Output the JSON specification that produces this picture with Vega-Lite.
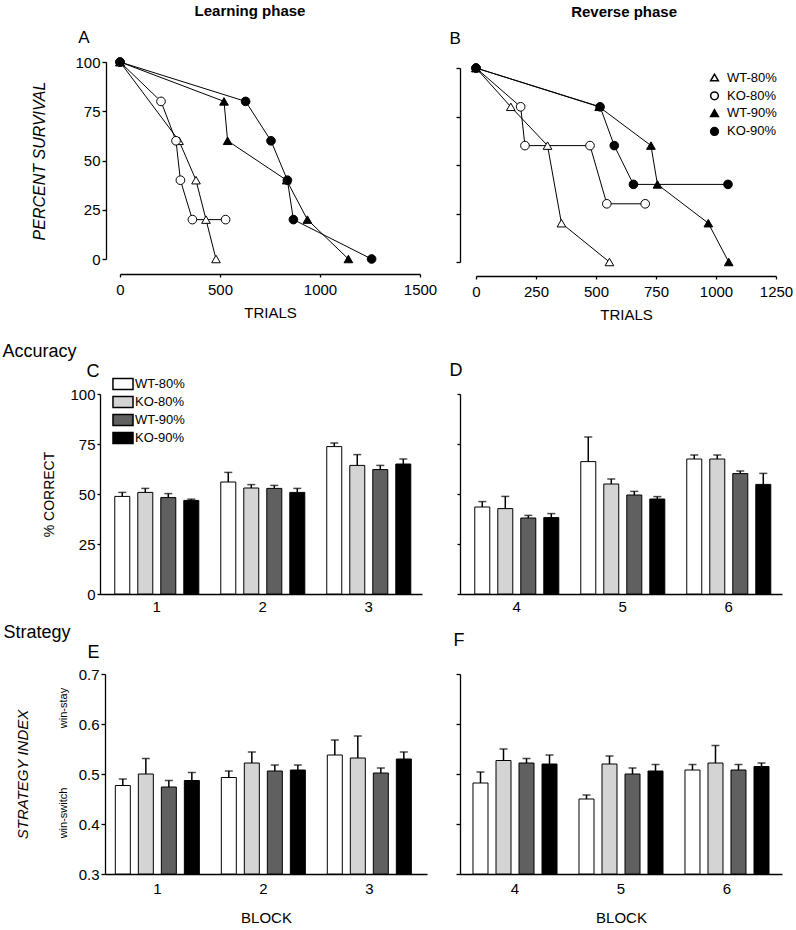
{
  "$schema": "https://vega.github.io/schema/vega-lite/v6.json",
  "padding": {"left": 2, "top": 3, "right": 5, "bottom": 5},
  "background": "white",
  "columns": 2,
  "spacing": {"row": 80, "column": 33},
  "bounds": "flush",
  "align": "each",
  "resolve": {"scale": {"fill": "independent", "shape": "independent"}},
  "datasets": {
    "surv": [
      {"panel": "A", "group": "WT-80%", "trials": 0, "pct": 100},
      {"panel": "A", "group": "WT-80%", "trials": 295, "pct": 60},
      {"panel": "A", "group": "WT-80%", "trials": 380, "pct": 40},
      {"panel": "A", "group": "WT-80%", "trials": 430, "pct": 20},
      {"panel": "A", "group": "WT-80%", "trials": 480, "pct": 0},
      {"panel": "A", "group": "KO-80%", "trials": 0, "pct": 100},
      {"panel": "A", "group": "KO-80%", "trials": 205, "pct": 80},
      {"panel": "A", "group": "KO-80%", "trials": 280, "pct": 60},
      {"panel": "A", "group": "KO-80%", "trials": 302, "pct": 40},
      {"panel": "A", "group": "KO-80%", "trials": 362, "pct": 20},
      {"panel": "A", "group": "KO-80%", "trials": 528, "pct": 20},
      {"panel": "A", "group": "WT-90%", "trials": 0, "pct": 100},
      {"panel": "A", "group": "WT-90%", "trials": 520, "pct": 80},
      {"panel": "A", "group": "WT-90%", "trials": 538, "pct": 60},
      {"panel": "A", "group": "WT-90%", "trials": 833, "pct": 40},
      {"panel": "A", "group": "WT-90%", "trials": 937, "pct": 20},
      {"panel": "A", "group": "WT-90%", "trials": 1142, "pct": 0},
      {"panel": "A", "group": "KO-90%", "trials": 0, "pct": 100},
      {"panel": "A", "group": "KO-90%", "trials": 628, "pct": 80},
      {"panel": "A", "group": "KO-90%", "trials": 755, "pct": 60},
      {"panel": "A", "group": "KO-90%", "trials": 837, "pct": 40},
      {"panel": "A", "group": "KO-90%", "trials": 867, "pct": 20},
      {"panel": "A", "group": "KO-90%", "trials": 1258, "pct": 0},
      {"panel": "B", "group": "WT-80%", "trials": 0, "pct": 100},
      {"panel": "B", "group": "WT-80%", "trials": 145, "pct": 80},
      {"panel": "B", "group": "WT-80%", "trials": 298, "pct": 60},
      {"panel": "B", "group": "WT-80%", "trials": 356, "pct": 20},
      {"panel": "B", "group": "WT-80%", "trials": 556, "pct": 0},
      {"panel": "B", "group": "KO-80%", "trials": 0, "pct": 100},
      {"panel": "B", "group": "KO-80%", "trials": 186, "pct": 80},
      {"panel": "B", "group": "KO-80%", "trials": 204, "pct": 60},
      {"panel": "B", "group": "KO-80%", "trials": 475, "pct": 60},
      {"panel": "B", "group": "KO-80%", "trials": 545, "pct": 30},
      {"panel": "B", "group": "KO-80%", "trials": 705, "pct": 30},
      {"panel": "B", "group": "WT-90%", "trials": 0, "pct": 100},
      {"panel": "B", "group": "WT-90%", "trials": 513, "pct": 80},
      {"panel": "B", "group": "WT-90%", "trials": 729, "pct": 60},
      {"panel": "B", "group": "WT-90%", "trials": 756, "pct": 40},
      {"panel": "B", "group": "WT-90%", "trials": 968, "pct": 20},
      {"panel": "B", "group": "WT-90%", "trials": 1053, "pct": 0},
      {"panel": "B", "group": "KO-90%", "trials": 0, "pct": 100},
      {"panel": "B", "group": "KO-90%", "trials": 517, "pct": 80},
      {"panel": "B", "group": "KO-90%", "trials": 576, "pct": 60},
      {"panel": "B", "group": "KO-90%", "trials": 656, "pct": 40},
      {"panel": "B", "group": "KO-90%", "trials": 1050, "pct": 40}
    ],
    "bars": [
      {"panel": "C", "block": "1", "group": "WT-80%", "mean": 48.8, "upper": 50.8},
      {"panel": "C", "block": "1", "group": "KO-80%", "mean": 50.8, "upper": 52.8},
      {"panel": "C", "block": "1", "group": "WT-90%", "mean": 48.2, "upper": 50.2},
      {"panel": "C", "block": "1", "group": "KO-90%", "mean": 46.8, "upper": 47.4},
      {"panel": "C", "block": "2", "group": "WT-80%", "mean": 56.0, "upper": 60.8},
      {"panel": "C", "block": "2", "group": "KO-80%", "mean": 53.0, "upper": 54.7},
      {"panel": "C", "block": "2", "group": "WT-90%", "mean": 52.8, "upper": 54.3},
      {"panel": "C", "block": "2", "group": "KO-90%", "mean": 50.8, "upper": 52.8},
      {"panel": "C", "block": "3", "group": "WT-80%", "mean": 73.7, "upper": 75.5},
      {"panel": "C", "block": "3", "group": "KO-80%", "mean": 64.3, "upper": 69.7},
      {"panel": "C", "block": "3", "group": "WT-90%", "mean": 62.2, "upper": 64.3},
      {"panel": "C", "block": "3", "group": "KO-90%", "mean": 65.0, "upper": 67.5},
      {"panel": "D", "block": "4", "group": "WT-80%", "mean": 43.5, "upper": 46.2},
      {"panel": "D", "block": "4", "group": "KO-80%", "mean": 42.7, "upper": 48.8},
      {"panel": "D", "block": "4", "group": "WT-90%", "mean": 38.0, "upper": 39.3},
      {"panel": "D", "block": "4", "group": "KO-90%", "mean": 38.2, "upper": 40.2},
      {"panel": "D", "block": "5", "group": "WT-80%", "mean": 66.2, "upper": 78.5},
      {"panel": "D", "block": "5", "group": "KO-80%", "mean": 55.0, "upper": 57.5},
      {"panel": "D", "block": "5", "group": "WT-90%", "mean": 49.5, "upper": 51.3},
      {"panel": "D", "block": "5", "group": "KO-90%", "mean": 47.5, "upper": 48.7},
      {"panel": "D", "block": "6", "group": "WT-80%", "mean": 67.5, "upper": 69.5},
      {"panel": "D", "block": "6", "group": "KO-80%", "mean": 67.5, "upper": 69.5},
      {"panel": "D", "block": "6", "group": "WT-90%", "mean": 60.2, "upper": 61.5},
      {"panel": "D", "block": "6", "group": "KO-90%", "mean": 54.8, "upper": 60.3},
      {"panel": "E", "block": "1", "group": "WT-80%", "mean": 0.477, "upper": 0.490},
      {"panel": "E", "block": "1", "group": "KO-80%", "mean": 0.500, "upper": 0.531},
      {"panel": "E", "block": "1", "group": "WT-90%", "mean": 0.474, "upper": 0.487},
      {"panel": "E", "block": "1", "group": "KO-90%", "mean": 0.487, "upper": 0.503},
      {"panel": "E", "block": "2", "group": "WT-80%", "mean": 0.493, "upper": 0.506},
      {"panel": "E", "block": "2", "group": "KO-80%", "mean": 0.522, "upper": 0.544},
      {"panel": "E", "block": "2", "group": "WT-90%", "mean": 0.506, "upper": 0.518},
      {"panel": "E", "block": "2", "group": "KO-90%", "mean": 0.508, "upper": 0.518},
      {"panel": "E", "block": "3", "group": "WT-80%", "mean": 0.538, "upper": 0.568},
      {"panel": "E", "block": "3", "group": "KO-80%", "mean": 0.532, "upper": 0.576},
      {"panel": "E", "block": "3", "group": "WT-90%", "mean": 0.502, "upper": 0.512},
      {"panel": "E", "block": "3", "group": "KO-90%", "mean": 0.530, "upper": 0.544},
      {"panel": "F", "block": "4", "group": "WT-80%", "mean": 0.482, "upper": 0.504},
      {"panel": "F", "block": "4", "group": "KO-80%", "mean": 0.527, "upper": 0.550},
      {"panel": "F", "block": "4", "group": "WT-90%", "mean": 0.522, "upper": 0.531},
      {"panel": "F", "block": "4", "group": "KO-90%", "mean": 0.520, "upper": 0.538},
      {"panel": "F", "block": "5", "group": "WT-80%", "mean": 0.450, "upper": 0.458},
      {"panel": "F", "block": "5", "group": "KO-80%", "mean": 0.520, "upper": 0.536},
      {"panel": "F", "block": "5", "group": "WT-90%", "mean": 0.500, "upper": 0.512},
      {"panel": "F", "block": "5", "group": "KO-90%", "mean": 0.506, "upper": 0.519},
      {"panel": "F", "block": "6", "group": "WT-80%", "mean": 0.508, "upper": 0.519},
      {"panel": "F", "block": "6", "group": "KO-80%", "mean": 0.522, "upper": 0.557},
      {"panel": "F", "block": "6", "group": "WT-90%", "mean": 0.508, "upper": 0.519},
      {"panel": "F", "block": "6", "group": "KO-90%", "mean": 0.515, "upper": 0.522}
    ]
  },
  "concat": [
    {
      "width": 320, "height": 212,
      "layer": [
        {
          "data": {"name": "surv"},
          "transform": [{"filter": "datum.panel === 'A'"}],
          "mark": {"type": "line", "color": "black", "strokeWidth": 1},
          "encoding": {
            "x": {"field": "trials", "type": "quantitative", "scale": {"domain": [0, 1500], "range": [20, 320], "nice": false, "zero": false},
                  "axis": {"values": [0, 500, 1000, 1500], "format": "d", "title": "TRIALS", "tickSize": 3, "labelPadding": 5, "titlePadding": 8, "labelFlush": false}},
            "y": {"field": "pct", "type": "quantitative", "scale": {"domain": [0, 100], "range": [197, 0], "nice": false},
                  "axis": {"values": [0, 25, 50, 75, 100], "offset": -6, "title": "PERCENT SURVIVAL", "titleFontStyle": "italic", "titleFontSize": 16, "titlePadding": 27, "labelPadding": 2}},
            "detail": {"field": "group"}
          }
        },
        {
          "data": {"name": "surv"},
          "transform": [{"filter": "datum.panel === 'A'"}],
          "mark": {"type": "point", "filled": true, "stroke": "black", "strokeWidth": 1, "size": 75, "opacity": 1},
          "encoding": {
            "x": {"field": "trials", "type": "quantitative"},
            "y": {"field": "pct", "type": "quantitative"},
            "shape": {"field": "group", "type": "nominal", "scale": {"domain": ["WT-80%", "KO-80%", "WT-90%", "KO-90%"], "range": ["triangle-up", "circle", "triangle-up", "circle"]}, "legend": null},
            "fill": {"field": "group", "type": "nominal", "scale": {"domain": ["WT-80%", "KO-80%", "WT-90%", "KO-90%"], "range": ["white", "white", "black", "black"]}, "legend": null}
          }
        },
        {
          "data": {"values": [{}]},
          "mark": {"type": "text", "text": "A", "fontSize": 17, "align": "center", "baseline": "middle"},
          "encoding": {"x": {"datum": -180}, "y": {"datum": 112}}
        },
        {
          "data": {"values": [{}]},
          "mark": {"type": "text", "text": "Learning phase", "fontSize": 15, "fontWeight": "bold", "align": "center", "baseline": "middle"},
          "encoding": {"x": {"datum": 650}, "y": {"datum": 126}}
        }
      ]
    },
    {
      "width": 316, "height": 214,
      "layer": [
        {
          "data": {"name": "surv"},
          "transform": [{"filter": "datum.panel === 'B'"}],
          "mark": {"type": "line", "color": "black", "strokeWidth": 1},
          "encoding": {
            "x": {"field": "trials", "type": "quantitative", "scale": {"domain": [0, 1250], "range": [16, 316], "nice": false, "zero": false},
                  "axis": {"values": [0, 250, 500, 750, 1000, 1250], "format": "d", "title": "TRIALS", "tickSize": 3, "labelPadding": 5, "titlePadding": 8, "labelFlush": false}},
            "y": {"field": "pct", "type": "quantitative", "scale": {"domain": [0, 100], "range": [200, 6], "nice": false},
                  "axis": {"values": [0, 25, 50, 75, 100], "labels": false, "title": null}},
            "detail": {"field": "group"}
          }
        },
        {
          "data": {"name": "surv"},
          "transform": [{"filter": "datum.panel === 'B'"}],
          "mark": {"type": "point", "filled": true, "stroke": "black", "strokeWidth": 1, "size": 75, "opacity": 1},
          "encoding": {
            "x": {"field": "trials", "type": "quantitative"},
            "y": {"field": "pct", "type": "quantitative"},
            "shape": {"field": "group", "type": "nominal", "scale": {"domain": ["WT-80%", "KO-80%", "WT-90%", "KO-90%"], "range": ["triangle-up", "circle", "triangle-up", "circle"]},
                      "legend": {"title": null, "orient": "none", "legendX": 248, "legendY": 9, "labelFontSize": 13, "rowPadding": 3.3, "symbolSize": 60, "labelOffset": 6,
                                 "encode": {"symbols": {"update": {"stroke": {"value": "black"}, "strokeWidth": {"value": 1}}}}}},
            "fill": {"field": "group", "type": "nominal", "scale": {"domain": ["WT-80%", "KO-80%", "WT-90%", "KO-90%"], "range": ["white", "white", "black", "black"]},
                     "legend": {"title": null, "orient": "none", "legendX": 248, "legendY": 9, "labelFontSize": 13, "rowPadding": 3.3, "symbolSize": 60, "labelOffset": 6,
                                "encode": {"symbols": {"update": {"stroke": {"value": "black"}, "strokeWidth": {"value": 1}}}}}}
          }
        },
        {
          "data": {"values": [{}]},
          "mark": {"type": "text", "text": "B", "fontSize": 17, "align": "center", "baseline": "middle"},
          "encoding": {"x": {"datum": -87}, "y": {"datum": 115}}
        },
        {
          "data": {"values": [{}]},
          "mark": {"type": "text", "text": "Reverse phase", "fontSize": 15, "fontWeight": "bold", "align": "center", "baseline": "middle"},
          "encoding": {"x": {"datum": 617}, "y": {"datum": 129}}
        }
      ]
    },
    {
      "width": 322, "height": 238,
      "data": {"name": "bars"},
      "transform": [{"filter": "datum.panel === 'C'"}],
      "layer": [
        {
          "mark": {"type": "bar", "stroke": "black", "strokeWidth": 1},
          "encoding": {
            "x": {"field": "block", "type": "nominal", "scale": {"paddingInner": 0.13, "paddingOuter": 0.084, "align": 0.6},
                  "axis": {"labelAngle": 0, "ticks": false, "labelPadding": 5, "title": "C", "titleFontSize": 18, "titleAngle": 0, "titleAlign": "left", "titleBaseline": "alphabetic", "titleX": -14, "titleY": -218}},
            "xOffset": {"field": "group", "type": "nominal", "scale": {"domain": ["WT-80%", "KO-80%", "WT-90%", "KO-90%"], "paddingInner": 0.348, "paddingOuter": 0.178}},
            "y": {"field": "mean", "type": "quantitative", "scale": {"domain": [0, 100], "range": [238, 38], "nice": false}, "axis": {"values": [0, 25, 50, 75, 100], "title": "% CORRECT", "titleFontSize": 14, "titlePadding": 13, "tickSize": 3}},
            "y2": {"datum": 0},
            "fill": {"field": "group", "type": "nominal", "scale": {"domain": ["WT-80%", "KO-80%", "WT-90%", "KO-90%"], "range": ["white", "#d4d4d4", "#606060", "black"]},
                     "legend": {"title": null, "orient": "none", "legendX": 16, "legendY": 21, "labelFontSize": 13, "rowPadding": 0, "symbolType": "M-1.67,-0.92H1.67V0.92H-1.67Z", "symbolSize": 144, "labelOffset": 5,
                                "encode": {"symbols": {"update": {"stroke": {"value": "black"}, "strokeWidth": {"value": 1}}}}}}
          }
        },
        {
          "mark": {"type": "rule", "color": "black", "strokeWidth": 1.5},
          "encoding": {
            "x": {"field": "block", "type": "nominal"},
            "xOffset": {"field": "group", "type": "nominal"},
            "y": {"field": "mean", "type": "quantitative"},
            "y2": {"field": "upper"}
          }
        },
        {
          "mark": {"type": "tick", "color": "black", "thickness": 1.5, "size": 8},
          "encoding": {
            "x": {"field": "block", "type": "nominal"},
            "xOffset": {"field": "group", "type": "nominal"},
            "y": {"field": "upper", "type": "quantitative"}
          }
        }
      ]
    },
    {
      "width": 322, "height": 238,
      "data": {"name": "bars"},
      "transform": [{"filter": "datum.panel === 'D'"}],
      "layer": [
        {
          "mark": {"type": "bar", "stroke": "black", "strokeWidth": 1},
          "encoding": {
            "x": {"field": "block", "type": "nominal", "scale": {"paddingInner": 0.13, "paddingOuter": 0.084, "align": 0.6},
                  "axis": {"labelAngle": 0, "ticks": false, "labelPadding": 5, "title": "D", "titleFontSize": 18, "titleAngle": 0, "titleAlign": "left", "titleBaseline": "alphabetic", "titleX": -11, "titleY": -219}},
            "xOffset": {"field": "group", "type": "nominal", "scale": {"domain": ["WT-80%", "KO-80%", "WT-90%", "KO-90%"], "paddingInner": 0.348, "paddingOuter": 0.178}},
            "y": {"field": "mean", "type": "quantitative", "scale": {"domain": [0, 100], "range": [238, 38], "nice": false},
                  "axis": {"values": [0, 25, 50, 75, 100], "labels": false, "tickSize": 3, "title": "Accuracy", "titleFontSize": 18, "titleAngle": 0, "titleAlign": "left", "titleBaseline": "alphabetic", "titleX": -458, "titleY": 0}},
            "y2": {"datum": 0},
            "fill": {"field": "group", "type": "nominal", "scale": {"domain": ["WT-80%", "KO-80%", "WT-90%", "KO-90%"], "range": ["white", "#d4d4d4", "#606060", "black"]}, "legend": null}
          }
        },
        {
          "mark": {"type": "rule", "color": "black", "strokeWidth": 1.5},
          "encoding": {
            "x": {"field": "block", "type": "nominal"},
            "xOffset": {"field": "group", "type": "nominal"},
            "y": {"field": "mean", "type": "quantitative"},
            "y2": {"field": "upper"}
          }
        },
        {
          "mark": {"type": "tick", "color": "black", "thickness": 1.5, "size": 8},
          "encoding": {
            "x": {"field": "block", "type": "nominal"},
            "xOffset": {"field": "group", "type": "nominal"},
            "y": {"field": "upper", "type": "quantitative"}
          }
        }
      ]
    },
    {
      "width": 327, "height": 200,
      "data": {"name": "bars"},
      "transform": [{"filter": "datum.panel === 'E'"}],
      "resolve": {"axis": {"y": "independent"}},
      "layer": [
        {
          "mark": {"type": "bar", "stroke": "black", "strokeWidth": 1},
          "encoding": {
            "x": {"field": "block", "type": "nominal", "scale": {"range": [5, 327], "paddingInner": 0.13, "paddingOuter": 0.084, "align": 0.35}, "axis": {"labelAngle": 0, "ticks": false, "title": "BLOCK", "labelPadding": 7, "titlePadding": 14}},
            "xOffset": {"field": "group", "type": "nominal", "scale": {"domain": ["WT-80%", "KO-80%", "WT-90%", "KO-90%"], "paddingInner": 0.348, "paddingOuter": 0.178}},
            "y": {"field": "mean", "type": "quantitative", "scale": {"domain": [0.3, 0.7], "nice": false, "zero": false},
                  "axis": {"values": [0.3, 0.4, 0.5, 0.6, 0.7], "format": ".1f", "offset": -5, "title": "STRATEGY  INDEX", "titleFontStyle": "italic", "titleFontSize": 15, "titlePadding": 48, "labelPadding": 2}},
            "y2": {"datum": 0.3},
            "fill": {"field": "group", "type": "nominal", "scale": {"domain": ["WT-80%", "KO-80%", "WT-90%", "KO-90%"], "range": ["white", "#d4d4d4", "#606060", "black"]}, "legend": null}
          }
        },
        {
          "mark": {"type": "rule", "color": "black", "strokeWidth": 1.5},
          "encoding": {
            "x": {"field": "block", "type": "nominal"},
            "xOffset": {"field": "group", "type": "nominal"},
            "y": {"field": "mean", "type": "quantitative",
                  "axis": {"orient": "left", "values": [0.423, 0.633], "labelExpr": "datum.value > 0.5 ? 'win-stay' : 'win-switch'", "labelAngle": 270, "labelAlign": "center", "labelBaseline": "middle", "labelFontSize": 11, "domain": false, "ticks": false, "tickSize": 0, "labelPadding": 0, "offset": 37, "labelOverlap": false,
                           "title": "E", "titleFontSize": 18, "titleAngle": 0, "titleAlign": "left", "titleBaseline": "alphabetic", "titleX": 24, "titleY": -17}},
            "y2": {"field": "upper"}
          }
        },
        {
          "mark": {"type": "tick", "color": "black", "thickness": 1.5, "size": 8},
          "encoding": {
            "x": {"field": "block", "type": "nominal"},
            "xOffset": {"field": "group", "type": "nominal"},
            "y": {"field": "upper", "type": "quantitative", "axis": null}
          }
        }
      ]
    },
    {
      "width": 322, "height": 200,
      "data": {"name": "bars"},
      "transform": [{"filter": "datum.panel === 'F'"}],
      "resolve": {"axis": {"y": "independent"}},
      "layer": [
        {
          "mark": {"type": "bar", "stroke": "black", "strokeWidth": 1},
          "encoding": {
            "x": {"field": "block", "type": "nominal", "scale": {"paddingInner": 0.13, "paddingOuter": 0.084, "align": 0.5}, "axis": {"labelAngle": 0, "ticks": false, "title": "BLOCK", "labelPadding": 7, "titlePadding": 14}},
            "xOffset": {"field": "group", "type": "nominal", "scale": {"domain": ["WT-80%", "KO-80%", "WT-90%", "KO-90%"], "paddingInner": 0.348, "paddingOuter": 0.178}},
            "y": {"field": "mean", "type": "quantitative", "scale": {"domain": [0.3, 0.7], "nice": false, "zero": false},
                  "axis": {"values": [0.3, 0.4, 0.5, 0.6, 0.7], "labels": false, "title": "F", "titleFontSize": 18, "titleAngle": 0, "titleAlign": "left", "titleBaseline": "alphabetic", "titleX": -7, "titleY": -29}},
            "y2": {"datum": 0.3},
            "fill": {"field": "group", "type": "nominal", "scale": {"domain": ["WT-80%", "KO-80%", "WT-90%", "KO-90%"], "range": ["white", "#d4d4d4", "#606060", "black"]}, "legend": null}
          }
        },
        {
          "mark": {"type": "rule", "color": "black", "strokeWidth": 1.5},
          "encoding": {
            "x": {"field": "block", "type": "nominal"},
            "xOffset": {"field": "group", "type": "nominal"},
            "y": {"field": "mean", "type": "quantitative",
                  "axis": {"orient": "left", "labels": false, "domain": false, "ticks": false, "values": [], "title": "Strategy", "titleFontSize": 18, "titleAngle": 0, "titleAlign": "left", "titleBaseline": "alphabetic", "titleX": -457, "titleY": -37}},
            "y2": {"field": "upper"}
          }
        },
        {
          "mark": {"type": "tick", "color": "black", "thickness": 1.5, "size": 8},
          "encoding": {
            "x": {"field": "block", "type": "nominal"},
            "xOffset": {"field": "group", "type": "nominal"},
            "y": {"field": "upper", "type": "quantitative", "axis": null}
          }
        }
      ]
    }
  ],
  "config": {
    "font": "Liberation Sans",
    "view": {"stroke": null},
    "axis": {"grid": false, "domainColor": "black", "tickColor": "black", "labelColor": "black", "titleColor": "black",
             "labelFont": "Liberation Sans", "titleFont": "Liberation Sans", "labelFontSize": 15, "titleFontSize": 15,
             "titleFontWeight": "normal", "tickSize": 4, "domainWidth": 1.3, "tickWidth": 1.3},
    "legend": {"labelFont": "Liberation Sans", "labelColor": "black"},
    "text": {"font": "Liberation Sans", "color": "black"}
  }
}
